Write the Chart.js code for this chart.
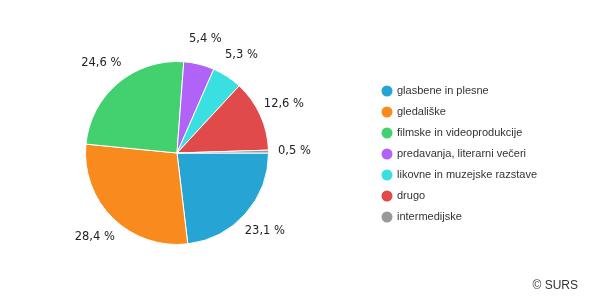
<!DOCTYPE html>
<html>
<head>
<meta charset="utf-8">
<script src="https://cdn.jsdelivr.net/npm/chart.js@4/dist/chart.umd.min.js"></script>
<style>
  html, body { margin: 0; padding: 0; background: #fff; }
  #wrap { width: 593px; height: 300px; position: relative; }
</style>
</head>
<body>
<div id="wrap"><canvas id="pieChart"></canvas></div>
<script>
// podatki
const categories = [
  "glasbene in plesne",
  "gledališke",
  "filmske in videoprodukcije",
  "predavanja, literarni večeri",
  "likovne in muzejske razstave",
  "drugo",
  "intermedijske"
];
const shares = [23.1, 28.4, 24.6, 5.4, 5.3, 12.6, 0.5];
const sliceColors = ["#26a4d4", "#f98a1e", "#43d16f", "#b162f7", "#3adfe1", "#e14a4b", "#999999"];

const labelFont = "11.5px Verdana, 'DejaVu Sans', sans-serif";
const legendFont = "11px 'Liberation Sans', Arial, sans-serif";

// oznake z vrednostmi zunaj kolača
const outerLabels = {
  id: "outerLabels",
  afterDatasetsDraw(chart) {
    const ctx = chart.ctx;
    const meta = chart.getDatasetMeta(0);
    ctx.save();
    ctx.font = labelFont;
    ctx.fillStyle = "#222";
    ctx.textAlign = "center";
    ctx.textBaseline = "middle";
    meta.data.forEach((arc, i) => {
      const mid = (arc.startAngle + arc.endAngle) / 2;
      const r = arc.outerRadius + 26;
      const x = arc.x + Math.cos(mid) * r;
      const y = arc.y + Math.sin(mid) * r;
      ctx.fillText(shares[i].toFixed(1).replace(".", ",") + " %", x, y);
    });
    ctx.restore();
  }
};

// legenda na desni
const sideLegend = {
  id: "sideLegend",
  afterDraw(chart) {
    const ctx = chart.ctx;
    ctx.save();
    ctx.font = legendFont;
    ctx.textBaseline = "middle";
    categories.forEach((name, i) => {
      const y = 91 + i * 21;
      ctx.beginPath();
      ctx.arc(387, y, 5.5, 0, Math.PI * 2);
      ctx.fillStyle = sliceColors[i];
      ctx.fill();
      ctx.fillStyle = "#333";
      ctx.fillText(name, 397, y);
    });
    ctx.font = "12px 'Liberation Sans', Arial, sans-serif";
    ctx.fillStyle = "#333";
    ctx.textAlign = "right";
    ctx.fillText("© SURS", 578, 286);
    ctx.restore();
  }
};

new Chart(document.getElementById("pieChart").getContext("2d"), {
  type: "pie",
  data: {
    labels: categories,
    datasets: [{
      data: shares,
      backgroundColor: sliceColors,
      borderColor: "#fff",
      borderWidth: 1
    }]
  },
  options: {
    responsive: true,
    maintainAspectRatio: false,
    animation: false,
    rotation: 90,
    layout: { padding: { left: 85, right: 324, top: 61, bottom: 55 } },
    plugins: {
      legend: { display: false },
      tooltip: { enabled: false }
    }
  },
  plugins: [outerLabels, sideLegend]
});
</script>
</body>
</html>
